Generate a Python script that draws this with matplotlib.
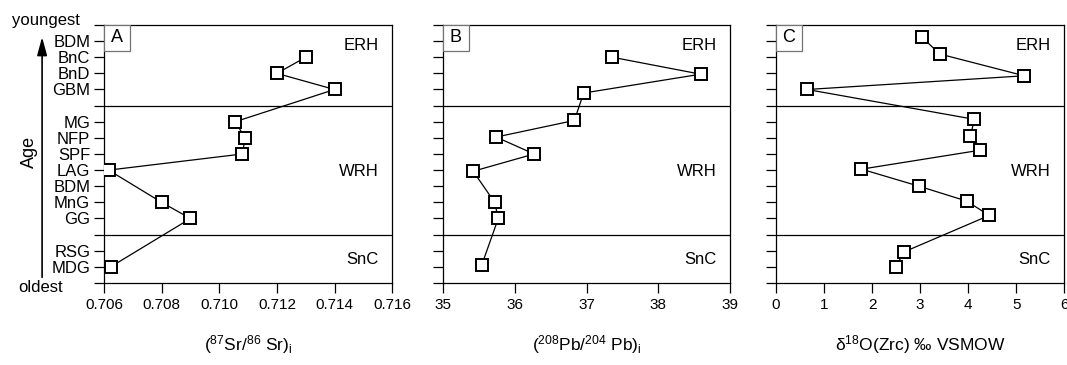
import numpy as np
import matplotlib
matplotlib.use('Agg')
import matplotlib.pyplot as plt
from matplotlib.patches import Rectangle

plt.rcParams['font.family'] = ['Liberation Sans', 'DejaVu Sans']
plt.rcParams['mathtext.default'] = 'regular'

# jednotky od najstarsej po najmladsiu a ich poradie na osi veku
units = ['MDG', 'RSG', 'GG', 'MnG', 'BDM', 'LAG', 'SPF', 'NFP', 'MG', 'GBM', 'BnD', 'BnC', 'BDM']
unit_rank = [1, 2, 4, 5, 6, 7, 8, 9, 10, 12, 13, 14, 15]

# hranice domen a ich nazvy
boundaries = [3, 11]
domains = ['SnC', 'WRH', 'ERH']

# (87Sr/86Sr)i
sr = [0.70623, np.nan, 0.7090, 0.7080, np.nan, 0.70616, 0.7108, 0.7109, 0.71055, 0.7140, 0.7120, 0.7130, np.nan]
sr_y = [1, 2, 4, 5, 6, 7, 8, 9, 10, 12, 13, 14, 15]

# (208Pb/204Pb)i
pb = [35.54, np.nan, 35.77, 35.72, np.nan, 35.42, 36.27, 35.74, 36.83, 36.96, 38.59, 37.36, np.nan]
pb_y = [1.12, 2, 4.0, 5.0, 6, 6.93, 8.0, 9.05, 10.08, 11.78, 12.95, 14.0, 15]

# d18O(Zrc)
d18o = [2.50, 2.66, 4.44, 3.97, 2.98, 1.78, 4.24, 4.05, 4.13, 0.65, 5.17, 3.41, 3.03]
d18o_y = [1.0, 1.92, 4.19, 5.08, 6.0, 7.06, 8.23, 9.1, 10.15, 12.0, 12.85, 14.2, 15.27]

sr_ticks = [0.706, 0.708, 0.710, 0.712, 0.714, 0.716]
pb_ticks = [35, 36, 37, 38, 39]
o_ticks = [0, 1, 2, 3, 4, 5, 6]

fig = plt.figure(figsize=(10.67, 3.65), dpi=100)
ax_a = fig.add_axes([0.0975, 0.2247, 0.270, 0.7068])
ax_b = fig.add_axes([0.4152, 0.2247, 0.269, 0.7068])
ax_c = fig.add_axes([0.7273, 0.2247, 0.270, 0.7068])


def panel(ax, x, y, ticks, ticklabels, xlabel, letter):
    x = np.array(x, dtype=float)
    y = np.array(y, dtype=float)
    ok = ~np.isnan(x)
    ax.plot(x[ok], y[ok], color='k', lw=0.9, marker='s', ms=8, mfc='white',
            mec='k', mew=1.4, zorder=3)
    for b in boundaries:
        ax.axhline(b, color='k', lw=0.9)
    ax.set_xlim(ticks[0], ticks[-1])
    ax.set_ylim(0, 16)
    ax.set_xticks(ticks)
    ax.set_xticklabels(ticklabels, fontsize=11)
    ax.set_yticks(range(17))
    ax.set_yticklabels([])
    ax.tick_params(direction='out', length=7, width=0.9, pad=4)
    ax.tick_params(axis='y', pad=3)
    for s in ax.spines.values():
        s.set_linewidth(0.9)
    ax.set_xlabel(xlabel, fontsize=12.5, labelpad=15)

    # pismeno panelu v ramceku
    ax.add_patch(Rectangle((0, 0.9), 0.09, 0.1, transform=ax.transAxes,
                           fc='white', ec='0.45', lw=0.9, zorder=4))
    ax.text(0.045, 0.95, letter, transform=ax.transAxes, ha='center',
            va='center', fontsize=13, zorder=5)

    tr = ax.get_yaxis_transform()
    for name, yy in zip(domains, [1.45, 6.9, 14.7]):
        ax.text(0.952, yy, name, transform=tr, ha='right', va='center', fontsize=12)


panel(ax_a, sr, sr_y, sr_ticks, ['%.3f' % t for t in sr_ticks],
      r'($^{87}$Sr/$^{86}$ Sr)$_{i}$', 'A')
panel(ax_b, pb, pb_y, pb_ticks, [str(t) for t in pb_ticks],
      r'($^{208}$Pb/$^{204}$ Pb)$_{i}$', 'B')
panel(ax_c, d18o, d18o_y, o_ticks, [str(t) for t in o_ticks],
      r'δ$^{18}$O(Zrc) ‰ VSMOW', 'C')

# popisky jednotiek len na prvom paneli
labels = [''] * 17
for u, r in zip(units, unit_rank):
    labels[r] = u
ax_a.set_yticklabels(labels, fontsize=12)

tr = ax_a.get_yaxis_transform()
ax_a.text(-0.083, 16.3, 'youngest', transform=tr, ha='right', va='center',
          fontsize=12, clip_on=False)
ax_a.text(-0.222, -0.25, 'oldest', transform=tr, ha='center', va='center',
          fontsize=12, clip_on=False)
ax_a.text(-0.26, 8.1, 'Age', transform=tr, rotation=90, ha='center',
          va='center', fontsize=13)
ax_a.annotate('', xy=(-0.215, 15.25), xytext=(-0.215, 0.35), xycoords=tr,
              textcoords=tr,
              arrowprops=dict(arrowstyle='-|>,head_width=0.3,head_length=1.1',
                              color='k', lw=1.2, shrinkA=0, shrinkB=0))

fig.savefig('out.png', dpi=100)
